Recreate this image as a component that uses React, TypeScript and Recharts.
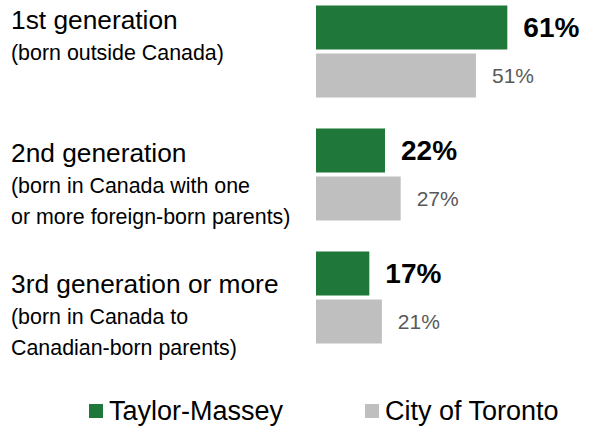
import { Bar, BarChart, LabelList, XAxis, YAxis } from "recharts";

const generations = ["1st generation", "2nd generation", "3rd generation or more"];
const notes = [
  ["(born outside Canada)"],
  ["(born in Canada with one", "or more foreign-born parents)"],
  ["(born in Canada to", "Canadian-born parents)"],
];
const taylorMassey = [61, 22, 17];
const cityOfToronto = [51, 27, 21];
const seriesNames = ["Taylor-Massey", "City of Toronto"];

const GREEN = "#1f7739";
const GREY = "#bfbfbf";
const FONT = "'Liberation Sans', Arial, sans-serif";

// title baseline offset from the band centre, per category
const titleShift = [-22, -12, -4];

const data = generations.map((name, i) => ({
  name,
  taylor: taylorMassey[i],
  toronto: cityOfToronto[i],
}));

type TickProps = { x?: number; y?: number; payload?: { value: string }; index?: number };

function GenerationTick({ y = 0, payload, index = 0 }: TickProps) {
  const i = generations.indexOf(payload?.value ?? "");
  const idx = i >= 0 ? i : index;
  const top = y + titleShift[idx];
  return (
    <text x={11} y={top} textAnchor="start" fill="#000" fontFamily={FONT}>
      <tspan x={11} y={top} fontSize={26.3}>
        {generations[idx]}
      </tspan>
      {notes[idx].map((line, j) => (
        <tspan key={line} x={11} y={top + 31 * (j + 1)} fontSize={21.4}>
          {line}
        </tspan>
      ))}
    </text>
  );
}

function ChartLegend() {
  const colors = [GREEN, GREY];
  return (
    <div
      style={{
        position: "absolute",
        left: 0,
        top: 398,
        width: 592,
        display: "flex",
        paddingLeft: 89,
        gap: 82,
        fontFamily: FONT,
      }}
    >
      {seriesNames.map((label, i) => (
        <div key={label} style={{ display: "flex", alignItems: "center", gap: 6, lineHeight: "26px" }}>
          <span style={{ width: 14, height: 14, background: colors[i], display: "inline-block" }} />
          <span style={{ fontSize: 27, color: "#000" }}>{label}</span>
        </div>
      ))}
    </div>
  );
}

export default function App() {
  return (
    <div style={{ position: "absolute", left: 0, top: 0, width: 592, height: 427, background: "#fff" }}>
      <BarChart
        width={592}
        height={427}
        data={data}
        layout="vertical"
        margin={{ top: -10.5, right: 0, bottom: 68.5, left: 0 }}
        barSize={44}
        barGap={4}
        style={{ fontFamily: FONT }}
      >
        <XAxis type="number" domain={[0, 88]} hide />
        <YAxis
          type="category"
          dataKey="name"
          width={316}
          axisLine={false}
          tickLine={false}
          tick={<GenerationTick />}
          interval={0}
        />
        <Bar dataKey="taylor" name={seriesNames[0]} fill={GREEN} isAnimationActive={false}>
          <LabelList
            dataKey="taylor"
            position="right"
            offset={16}
            formatter={(v: number) => `${v}%`}
            fill="#000"
            fontSize={28}
            fontWeight="bold"
            fontFamily={FONT}
          />
        </Bar>
        <Bar dataKey="toronto" name={seriesNames[1]} fill={GREY} isAnimationActive={false}>
          <LabelList
            dataKey="toronto"
            position="right"
            offset={16}
            formatter={(v: number) => `${v}%`}
            fill="#595959"
            fontSize={21}
            fontFamily={FONT}
          />
        </Bar>
      </BarChart>
      <ChartLegend />
    </div>
  );
}
